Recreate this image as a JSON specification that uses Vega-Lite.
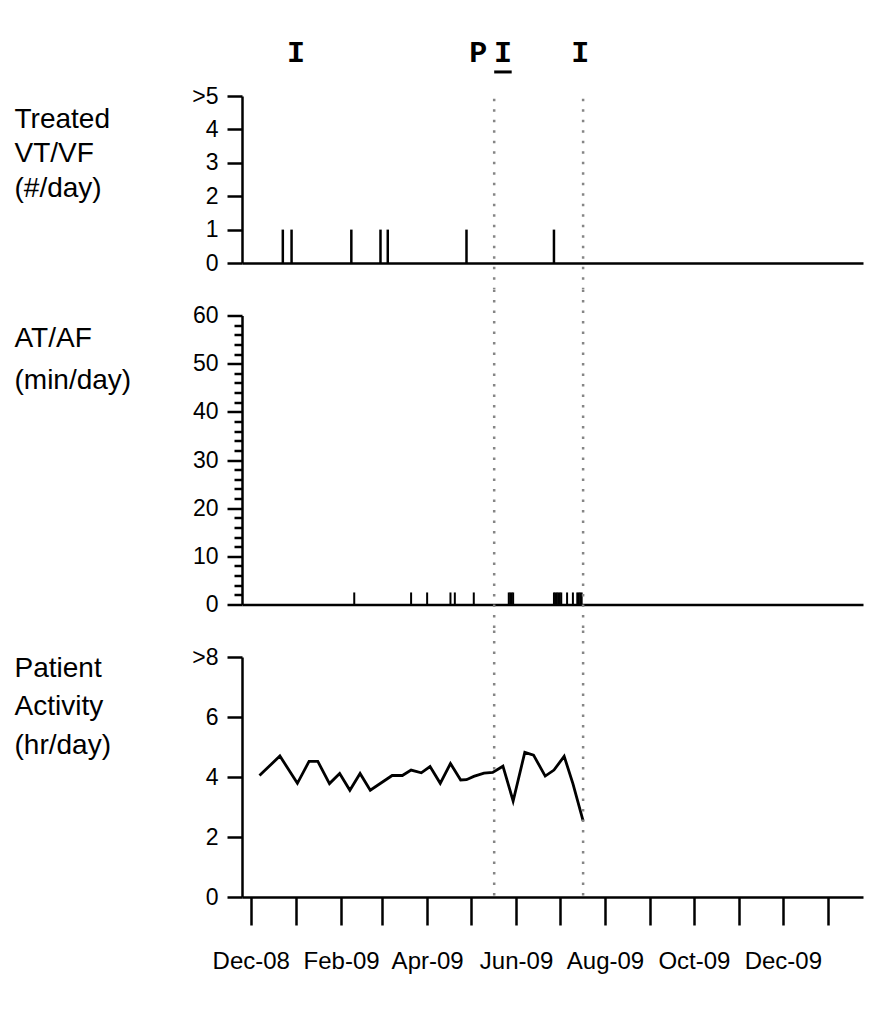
{
  "$schema": "https://vega.github.io/schema/vega-lite/v6.json",
  "padding": {"left": 14, "top": 37, "right": 5, "bottom": 5},
  "background": "white",
  "bounds": "flush",
  "spacing": 52.5,
  "config": {
    "view": {"stroke": null},
    "axis": {
      "domainColor": "black", "domainWidth": 2.5,
      "tickColor": "black", "tickWidth": 2.5,
      "labelColor": "black", "labelFont": "Liberation Sans", "labelFontSize": 23,
      "titleFont": "Liberation Sans", "titleFontSize": 28, "titleFontWeight": "normal", "titleColor": "black",
      "grid": false, "labelOverlap": false, "labelFlush": false
    }
  },
  "datasets": {
    "vt": [
      {"date": "2008-12-23", "count": 1},
      {"date": "2008-12-29", "count": 1},
      {"date": "2009-02-08", "count": 1},
      {"date": "2009-02-28", "count": 1},
      {"date": "2009-03-05", "count": 1},
      {"date": "2009-04-28", "count": 1},
      {"date": "2009-06-27", "count": 1}
    ],
    "af": [
      {"date": "2009-02-10", "minutes": 2.5},
      {"date": "2009-03-21", "minutes": 2.5},
      {"date": "2009-04-01", "minutes": 2.5},
      {"date": "2009-04-17", "minutes": 2.5},
      {"date": "2009-04-20", "minutes": 2.5},
      {"date": "2009-05-03", "minutes": 2.5},
      {"date": "2009-05-27", "minutes": 2.5},
      {"date": "2009-05-28", "minutes": 2.5},
      {"date": "2009-05-29", "minutes": 2.5},
      {"date": "2009-05-30", "minutes": 2.5},
      {"date": "2009-06-27", "minutes": 2.5},
      {"date": "2009-06-28", "minutes": 2.5},
      {"date": "2009-06-29", "minutes": 2.5},
      {"date": "2009-06-30", "minutes": 2.5},
      {"date": "2009-07-01", "minutes": 2.5},
      {"date": "2009-07-02", "minutes": 2.5},
      {"date": "2009-07-06", "minutes": 2.5},
      {"date": "2009-07-10", "minutes": 2.5},
      {"date": "2009-07-13", "minutes": 2.5},
      {"date": "2009-07-14", "minutes": 2.5},
      {"date": "2009-07-15", "minutes": 2.5},
      {"date": "2009-07-16", "minutes": 2.5}
    ],
    "activity": [
      {"date": "2008-12-07", "hours": 4.05},
      {"date": "2008-12-21", "hours": 4.70},
      {"date": "2009-01-02", "hours": 3.79},
      {"date": "2009-01-10", "hours": 4.52},
      {"date": "2009-01-16", "hours": 4.52},
      {"date": "2009-01-24", "hours": 3.78},
      {"date": "2009-01-31", "hours": 4.12},
      {"date": "2009-02-07", "hours": 3.56},
      {"date": "2009-02-14", "hours": 4.12},
      {"date": "2009-02-21", "hours": 3.56},
      {"date": "2009-03-08", "hours": 4.05},
      {"date": "2009-03-15", "hours": 4.05},
      {"date": "2009-03-21", "hours": 4.23},
      {"date": "2009-03-28", "hours": 4.14},
      {"date": "2009-04-03", "hours": 4.35},
      {"date": "2009-04-10", "hours": 3.79},
      {"date": "2009-04-17", "hours": 4.45},
      {"date": "2009-04-24", "hours": 3.90},
      {"date": "2009-04-28", "hours": 3.91},
      {"date": "2009-05-03", "hours": 4.02},
      {"date": "2009-05-10", "hours": 4.13},
      {"date": "2009-05-16", "hours": 4.15},
      {"date": "2009-05-23", "hours": 4.36},
      {"date": "2009-05-30", "hours": 3.20},
      {"date": "2009-06-07", "hours": 4.82},
      {"date": "2009-06-13", "hours": 4.73},
      {"date": "2009-06-21", "hours": 4.03},
      {"date": "2009-06-27", "hours": 4.23},
      {"date": "2009-07-04", "hours": 4.69},
      {"date": "2009-07-10", "hours": 3.78},
      {"date": "2009-07-17", "hours": 2.54}
    ],
    "events": [
      {"date": "2009-05-17"},
      {"date": "2009-07-17"}
    ],
    "markers": [
      {"date": "2009-01-01", "label": "I"},
      {"date": "2009-05-06", "label": "P"},
      {"date": "2009-05-23", "label": "I"},
      {"date": "2009-07-15", "label": "I"}
    ],
    "underline": [
      {"start": "2009-05-17", "end": "2009-05-29"}
    ]
  },
  "vconcat": [
    {
      "width": 621,
      "height": 167,
      "layer": [
        {
          "data": {"name": "vt"},
          "mark": {"type": "rule", "strokeWidth": 2.5, "color": "black"},
          "encoding": {
            "x": {
              "field": "date", "type": "temporal",
              "scale": {"type": "utc", "nice": false, "domain": [{"year": 2008, "month": 11, "date": 25, "utc": true}, {"year": 2010, "month": 1, "date": 25, "utc": true}]},
              "axis": {"title": null, "labels": false, "ticks": false, "domain": true}
            },
            "y": {
              "field": "count", "type": "quantitative",
              "scale": {"domain": [0, 5], "nice": false},
              "axis": {
                "title": ["Treated", "VT/VF", "(#/day)"],
                "titleAngle": 0, "titleAlign": "left", "titleBaseline": "top",
                "titleX": -228, "titleY": 9, "titleLineHeight": 34.5,
                "values": [0, 1, 2, 3, 4, 5], "tickCount": 100, "format": "d", "tickSize": 15, "labelPadding": 9,
                "labelExpr": "datum.value == 5 ? '>5' : datum.label"
              }
            },
            "y2": {"datum": 0}
          }
        },
        {
          "data": {"name": "events"},
          "mark": {"type": "rule", "strokeDash": [2.5, 8], "strokeWidth": 2.5, "color": "#858585"},
          "encoding": {
            "x": {"field": "date", "type": "temporal"},
            "y": {"datum": 4.92},
            "y2": {"datum": -0.78}
          }
        },
        {
          "data": {"name": "markers"},
          "mark": {"type": "text", "font": "Liberation Mono", "fontWeight": "bold", "fontSize": 30, "baseline": "top", "align": "center", "color": "black"},
          "encoding": {
            "x": {"field": "date", "type": "temporal"},
            "y": {"datum": 6.74},
            "text": {"field": "label"}
          }
        },
        {
          "data": {"name": "underline"},
          "mark": {"type": "rule", "strokeWidth": 3, "color": "black"},
          "encoding": {
            "x": {"field": "start", "type": "temporal"},
            "x2": {"field": "end"},
            "y": {"datum": 5.72}
          }
        }
      ]
    },
    {
      "width": 621,
      "height": 289,
      "layer": [
        {
          "data": {"name": "af"},
          "mark": {"type": "rule", "strokeWidth": 2, "color": "black"},
          "encoding": {
            "x": {
              "field": "date", "type": "temporal",
              "scale": {"type": "utc", "nice": false, "domain": [{"year": 2008, "month": 11, "date": 25, "utc": true}, {"year": 2010, "month": 1, "date": 25, "utc": true}]},
              "axis": {"title": null, "labels": false, "ticks": false, "domain": true}
            },
            "y": {
              "field": "minutes", "type": "quantitative",
              "scale": {"domain": [0, 60], "nice": false},
              "axis": {
                "title": ["AT/AF", "(min/day)"],
                "titleAngle": 0, "titleAlign": "left", "titleBaseline": "top",
                "titleX": -228, "titleY": 9, "titleLineHeight": 42,
                "values": [0, 2, 4, 6, 8, 10, 12, 14, 16, 18, 20, 22, 24, 26, 28, 30, 32, 34, 36, 38, 40, 42, 44, 46, 48, 50, 52, 54, 56, 58, 60],
                "tickCount": 100, "format": "d",
                "tickSize": {"condition": {"test": "datum.value % 10 === 0", "value": 15}, "value": 8},
                "labelPadding": 9,
                "labelExpr": "datum.value % 10 === 0 ? datum.label : ''"
              }
            },
            "y2": {"datum": 0}
          }
        },
        {
          "data": {"name": "events"},
          "mark": {"type": "rule", "strokeDash": [2.5, 8], "strokeWidth": 2.5, "color": "#858585"},
          "encoding": {
            "x": {"field": "date", "type": "temporal"},
            "y": {"datum": 65.4},
            "y2": {"datum": -5.5}
          }
        }
      ]
    },
    {
      "width": 621,
      "height": 240,
      "layer": [
        {
          "data": {"name": "activity"},
          "mark": {"type": "line", "strokeWidth": 2.8, "color": "black"},
          "encoding": {
            "x": {
              "field": "date", "type": "temporal",
              "scale": {"type": "utc", "nice": false, "domain": [{"year": 2008, "month": 11, "date": 25, "utc": true}, {"year": 2010, "month": 1, "date": 25, "utc": true}]},
              "axis": {
                "title": null,
                "values": [
                  {"year": 2008, "month": 12, "date": 1, "utc": true},
                  {"year": 2009, "month": 1, "date": 1, "utc": true},
                  {"year": 2009, "month": 2, "date": 1, "utc": true},
                  {"year": 2009, "month": 3, "date": 1, "utc": true},
                  {"year": 2009, "month": 4, "date": 1, "utc": true},
                  {"year": 2009, "month": 5, "date": 1, "utc": true},
                  {"year": 2009, "month": 6, "date": 1, "utc": true},
                  {"year": 2009, "month": 7, "date": 1, "utc": true},
                  {"year": 2009, "month": 8, "date": 1, "utc": true},
                  {"year": 2009, "month": 9, "date": 1, "utc": true},
                  {"year": 2009, "month": 10, "date": 1, "utc": true},
                  {"year": 2009, "month": 11, "date": 1, "utc": true},
                  {"year": 2009, "month": 12, "date": 1, "utc": true},
                  {"year": 2010, "month": 1, "date": 1, "utc": true}
                ],
                "tickCount": 100,
                "format": "%b-%y",
                "labelExpr": "utcmonth(datum.value) % 2 == 1 ? datum.label : ''",
                "tickSize": 28, "labelPadding": 24, "labelFontSize": 24,
                "domain": true
              }
            },
            "y": {
              "field": "hours", "type": "quantitative",
              "scale": {"domain": [0, 8], "nice": false},
              "axis": {
                "title": ["Patient", "Activity", "(hr/day)"],
                "titleAngle": 0, "titleAlign": "left", "titleBaseline": "top",
                "titleX": -228, "titleY": -3, "titleLineHeight": 38.5,
                "values": [0, 2, 4, 6, 8], "tickCount": 100, "format": "d", "tickSize": 15, "labelPadding": 9,
                "labelExpr": "datum.value == 8 ? '>8' : datum.label"
              }
            }
          }
        },
        {
          "data": {"name": "events"},
          "mark": {"type": "rule", "strokeDash": [2.5, 8], "strokeWidth": 2.5, "color": "#858585"},
          "encoding": {
            "x": {"field": "date", "type": "temporal"},
            "y": {"datum": 8.88},
            "y2": {"datum": -0.1}
          }
        }
      ]
    }
  ]
}
